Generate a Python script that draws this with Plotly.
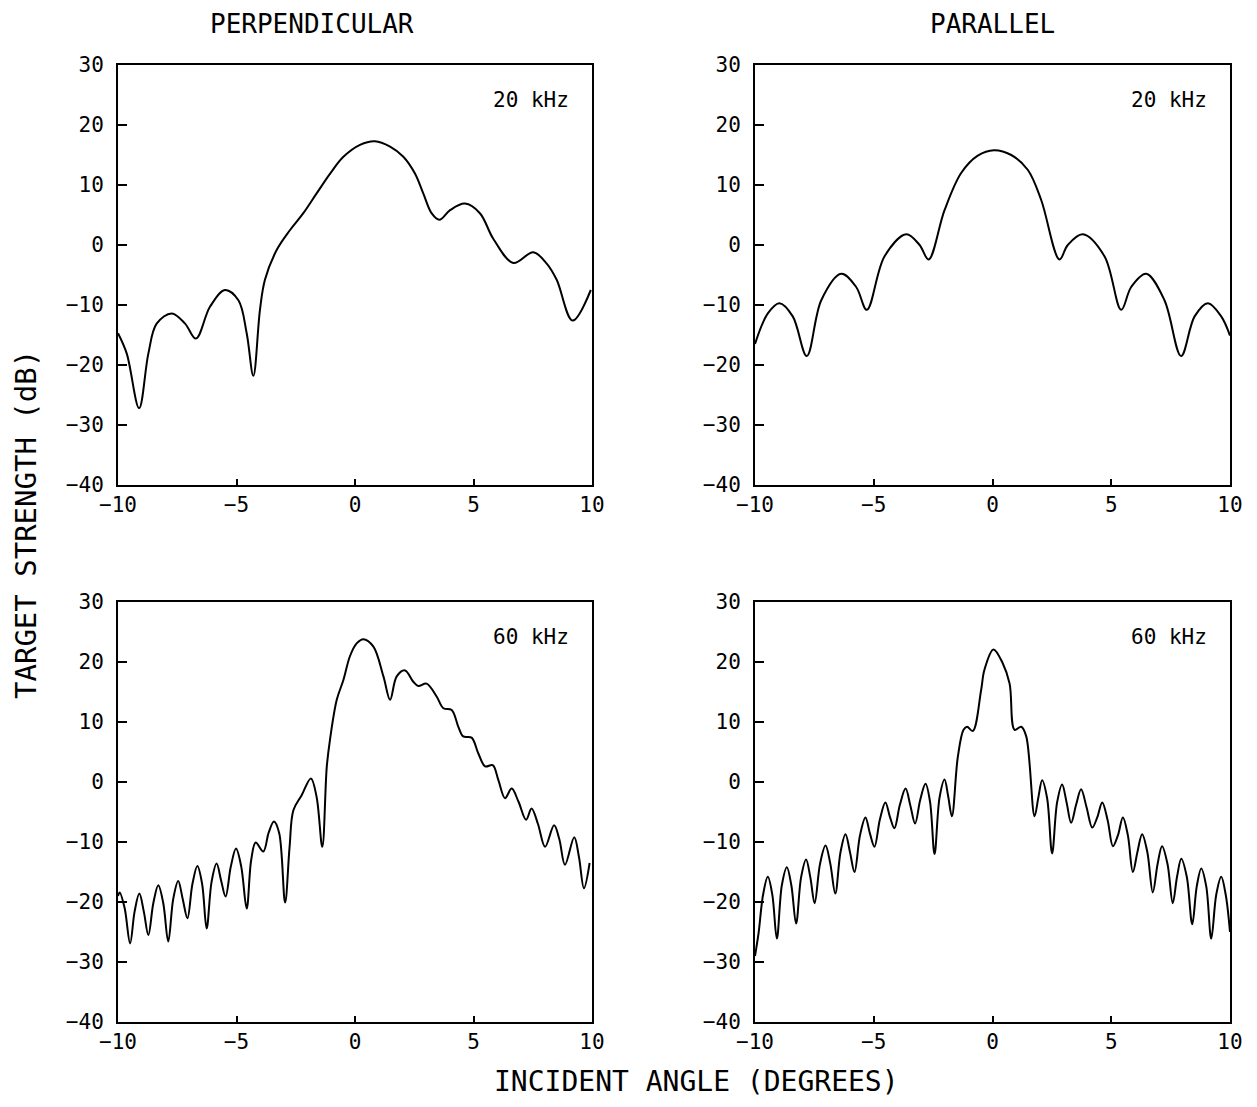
import plotly.graph_objects as go

# ---- data ----
perp20_x = [-10, -9.63, -9.11, -8.72, -8.37, -7.73, -7.17, -6.71, -6.12, -5.49, -4.92, -4.57, -4.29, -4.01,
            -3.8, -3.3, -2.74, -2.18, -1.62, -1.05, -0.49, 0.21, 0.84, 1.48, 2.04, 2.53, 2.88, 3.23, 3.56,
            4.01, 4.64, 5.27, 5.84, 6.68, 7.52, 8.09, 8.51, 9.18, 9.95]
perp20_y = [-14.7, -18.1, -27.2, -18.1, -13.1, -11.4, -13.1, -15.6, -10.3, -7.5, -9.2, -14.7, -21.8, -10.8,
            -5.8, -0.8, 2.5, 5.3, 8.6, 11.9, 14.7, 16.7, 17.3, 16.4, 14.7, 11.9, 8.6, 5.3, 4.2,
            5.8, 6.9, 5.3, 1.0, -3.0, -1.2, -3.1, -5.8, -12.6, -7.5]

par20_x = [-10, -9.46, -8.97, -8.41, -7.82, -7.21, -6.37, -5.74, -5.29, -4.55, -3.63, -3.07, -2.69, -2.02,
           -1.32, -0.62, 0.06, 0.79, 1.49, 2.05, 2.82, 3.17, 3.80, 4.72, 5.42, 5.84, 6.47, 7.24, 7.94,
           8.51, 9.07, 9.63, 10]
par20_y = [-16.5, -11.4, -9.7, -11.9, -18.5, -9.2, -4.8, -7.0, -10.8, -1.9, 1.8, 0.0, -2.4, 5.8,
           12.0, 14.9, 15.8, 15.0, 12.5, 7.5, -2.4, 0.0, 1.8, -1.9, -10.8, -7.0, -4.8, -9.2, -18.5,
           -11.9, -9.7, -11.9, -15.1]

perp60_x = [-10, -9.93, -9.72, -9.49, -9.30, -9.10, -8.91, -8.72, -8.51, -8.30, -8.09, -7.88, -7.67, -7.46,
            -7.27, -7.07, -6.86, -6.65, -6.45, -6.26, -6.05, -5.84, -5.65, -5.46, -5.24, -5.02, -4.80,
            -4.57, -4.38, -4.19, -3.87, -3.64, -3.42, -3.20, -2.95, -2.76, -2.60, -2.25, -1.86, -1.62,
            -1.38, -1.19, -1.05, -0.77, -0.49, -0.21, 0.07, 0.35, 0.77, 1.20, 1.48, 1.76, 2.11, 2.46,
            2.67, 3.02, 3.45, 3.73, 4.08, 4.36, 4.57, 4.92, 5.20, 5.49, 5.81, 6.05, 6.33, 6.61, 6.90,
            7.22, 7.45, 7.72, 8.02, 8.40, 8.62, 8.86, 9.25, 9.45, 9.66, 9.90]
perp60_y = [-19.0, -18.4, -21.0, -26.9, -21.6, -18.6, -21.6, -25.5, -20.2, -17.2, -20.2, -26.6, -19.5, -16.5,
            -19.5, -22.7, -17.0, -14.0, -17.0, -24.4, -16.6, -13.6, -16.4, -19.1, -14.1, -11.1, -14.1,
            -21.1, -13.0, -10.1, -11.6, -8.4, -6.6, -8.5, -20.1, -10.8, -4.7, -2.2, 0.6, -2.5,
            -10.8, 2.6, 7.2, 13.7, 17.0, 21.0, 23.1, 23.8, 22.6, 17.6, 13.7, 17.6, 18.6, 16.7,
            16.0, 16.4, 14.2, 12.3, 12.0, 9.2, 7.6, 7.4, 4.8, 2.6, 2.8, 0.3, -2.7, -1.1, -3.3,
            -6.3, -4.4, -7.0, -10.8, -7.2, -9.5, -13.8, -9.2, -12.5, -17.7, -13.5]

par60_x = [-10, -9.85, -9.66, -9.46, -9.27, -9.08, -8.87, -8.66, -8.47, -8.27, -8.06, -7.85, -7.67, -7.49,
           -7.26, -7.03, -6.83, -6.62, -6.40, -6.19, -6.00, -5.81, -5.58, -5.35, -5.16, -4.97, -4.74,
           -4.51, -4.32, -4.13, -3.90, -3.66, -3.46, -3.26, -3.04, -2.82, -2.63, -2.44, -2.23, -2.02,
           -1.87, -1.71, -1.46, -1.22, -1.07, -0.83, -0.48, -0.34, 0.04, 0.43, 0.72, 0.93, 1.21, 1.42,
           1.77, 1.93, 2.09, 2.30, 2.51, 2.72, 2.93, 3.12, 3.31, 3.52, 3.73, 3.96, 4.20, 4.41, 4.62,
           4.85, 5.07, 5.28, 5.49, 5.70, 5.91, 6.10, 6.30, 6.52, 6.75, 6.95, 7.14, 7.37, 7.59, 7.77,
           7.95, 8.18, 8.41, 8.60, 8.79, 9.00, 9.21, 9.42, 9.63, 9.82, 10]
par60_y = [-29.0, -25.2, -18.8, -15.8, -18.8, -26.1, -17.2, -14.2, -17.2, -23.6, -15.9, -12.9, -15.9, -20.2,
           -13.6, -10.6, -13.6, -18.6, -11.7, -8.7, -11.7, -15.0, -8.9, -5.9, -8.6, -10.8, -6.2,
           -3.4, -5.8, -7.7, -3.8, -1.1, -3.9, -6.9, -2.9, -0.3, -3.3, -12.0, -2.6, 0.4,
           -2.3, -5.7, 4.2, 8.7, 9.2, 8.5, 15.3, 18.7, 22.1, 19.8, 16.4, 8.7, 9.2, 7.6,
           -5.7, -2.6, 0.3, -2.7, -11.9, -3.4, -0.4, -3.4, -6.8, -3.8, -1.2, -4.2, -7.6, -5.9, -3.4,
           -6.4, -10.7, -8.9, -5.9, -8.9, -15.0, -11.7, -8.7, -11.7, -18.4, -13.7, -10.7, -13.7, -20.2, -15.8,
           -12.8, -15.8, -23.7, -17.4, -14.4, -17.4, -26.1, -18.8, -15.8, -18.8, -25.0]

x_ticks = [-10, -5, 0, 5, 10]
y_ticks = [-40, -30, -20, -10, 0, 10, 20, 30]
col_titles = ["PERPENDICULAR", "PARALLEL"]
freq_labels = ["20 kHz", "20 kHz", "60 kHz", "60 kHz"]
y_title = "TARGET STRENGTH (dB)"
x_title = "INCIDENT ANGLE (DEGREES)"

# page body has an 8px margin; size the figure to fit inside it
OFF = 8
W, H = 1257 - 2 * OFF, 1107 - 2 * OFF
FONT = "DejaVu Sans Mono"


def px(x):
    return (x - OFF) / W


def py(y):
    return (H - (y - OFF)) / H


xdom = [[px(118), px(592)], [px(755), px(1230)]]
ydom = [[py(485), py(65)], [py(1022), py(602)]]

series = [(perp20_x, perp20_y), (par20_x, par20_y), (perp60_x, perp60_y), (par60_x, par60_y)]

fig = go.Figure()
layout = dict(
    width=W, height=H, autosize=False, margin=dict(l=0, r=0, t=0, b=0, pad=0),
    paper_bgcolor="white", plot_bgcolor="white", showlegend=False, template="none",
    font=dict(family=FONT, color="black"),
)
annotations = []
for i, (xs, ys) in enumerate(series):
    r, c = divmod(i, 2)
    n = i + 1
    xa = "x" if n == 1 else f"x{n}"
    ya = "y" if n == 1 else f"y{n}"
    fig.add_trace(go.Scatter(x=xs, y=ys, mode="lines", xaxis=xa, yaxis=ya,
                             line=dict(color="black", width=2, shape="spline", smoothing=1.0)))
    xkey = "xaxis" if n == 1 else f"xaxis{n}"
    ykey = "yaxis" if n == 1 else f"yaxis{n}"
    layout[xkey] = dict(domain=xdom[c], anchor=ya, range=[-10, 10], tickvals=x_ticks,
                        ticks="inside", ticklen=6, tickwidth=2, tickcolor="black",
                        showline=True, linecolor="black", linewidth=2, mirror=True,
                        showgrid=False, zeroline=False, automargin=False,
                        tickfont=dict(family=FONT, size=21, color="black"))
    layout[ykey] = dict(domain=ydom[r], anchor=xa, range=[-40, 30], tickvals=y_ticks,
                        ticks="inside", ticklen=9, tickwidth=2, tickcolor="black",
                        showline=True, linecolor="black", linewidth=2, mirror=True,
                        showgrid=False, zeroline=False, ticklabelstandoff=8, automargin=False,
                        tickfont=dict(family=FONT, size=21, color="black"))
    annotations.append(dict(x=9.1, y=24.2, xref=xa, yref=ya, text=freq_labels[i],
                            showarrow=False, xanchor="right", yanchor="middle",
                            font=dict(family=FONT, size=21, color="black")))

annotations.append(dict(x=px(312), y=py(24), xref="paper", yref="paper", text=col_titles[0],
                        showarrow=False, xanchor="center", yanchor="middle",
                        font=dict(family=FONT, size=26, color="black")))
annotations.append(dict(x=px(993), y=py(24), xref="paper", yref="paper", text=col_titles[1],
                        showarrow=False, xanchor="center", yanchor="middle",
                        font=dict(family=FONT, size=26, color="black")))
annotations.append(dict(x=px(26), y=py(525), xref="paper", yref="paper", text=y_title,
                        showarrow=False, textangle=-90, xanchor="center", yanchor="middle",
                        font=dict(family=FONT, size=29, color="black")))
annotations.append(dict(x=px(696), y=py(1081), xref="paper", yref="paper", text=x_title,
                        showarrow=False, xanchor="center", yanchor="middle",
                        font=dict(family=FONT, size=28, color="black")))
layout["annotations"] = annotations
fig.update_layout(**layout)
fig.write_html("out.html")
